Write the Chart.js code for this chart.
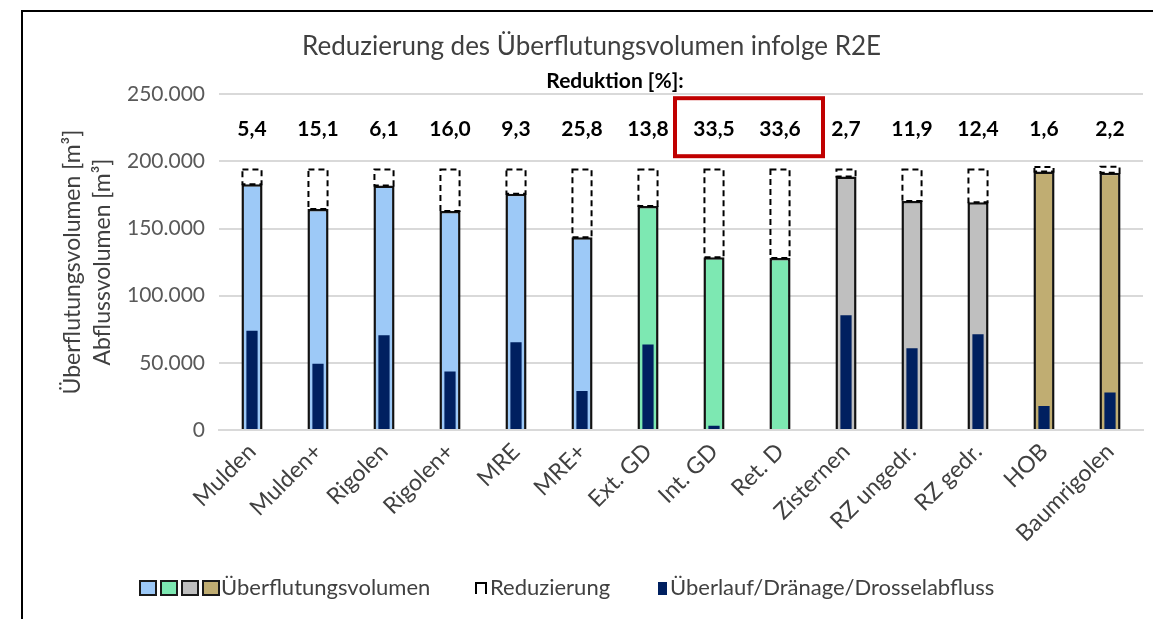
<!DOCTYPE html>
<html lang="de">
<head>
<meta charset="UTF-8">
<title>Reduzierung des Überflutungsvolumen infolge R2E</title>
<script src="https://cdn.jsdelivr.net/npm/chart.js"></script>
<style>
  body { margin: 0; background: #fff; }
  #wrap { position: relative; width: 1153px; height: 619px; }
  #legend { position: absolute; left: 0; top: 573px; width: 1153px; height: 30px;
            font-family: Lato, sans-serif; font-size: 22px; color: #404040; }
  #legend span { position: absolute; top: 0; line-height: 28px; }
  .box { position: absolute; top: 7px; width: 14px; height: 12px; border: 2px solid #1a1a1a; }
</style>
</head>
<body>
<div id="wrap">
  <canvas id="chart" width="1153" height="619"></canvas>
  <div id="legend"></div>
</div>
<script>
// Kategorien
var labels = ['Mulden', 'Mulden+', 'Rigolen', 'Rigolen+', 'MRE', 'MRE+', 'Ext. GD', 'Int. GD',
              'Ret. D', 'Zisternen', 'RZ ungedr.', 'RZ gedr.', 'HOB', 'Baumrigolen'];
// Überflutungsvolumen ohne Maßnahme (gestrichelter Rahmen oben)
var volumenOhne = [194000, 194000, 194000, 194000, 194000, 194000, 194000, 194000,
                   194000, 194000, 194000, 194000, 195800, 196000];
// Überflutungsvolumen mit Maßnahme
var volumenMit = [183000, 164500, 182000, 163000, 175800, 143500, 166800, 128600,
                  128000, 188800, 170500, 169500, 192500, 191500];
// Überlauf/Dränage/Drosselabfluss
var abfluss = [73800, 49400, 70500, 43500, 65300, 29000, 63600, 3200,
               0, 85400, 60800, 71300, 17900, 28000];
// Reduktion [%]
var reduktion = ['5,4', '15,1', '6,1', '16,0', '9,3', '25,8', '13,8', '33,5',
                 '33,6', '2,7', '11,9', '12,4', '1,6', '2,2'];
// markierte Kategorien (roter Rahmen)
var markiert = ['Int. GD', 'Ret. D'];
var yTicks = [0, 50000, 100000, 150000, 200000, 250000];

var gruppenFarben = ['#9dc9f7', '#7de8b2', '#bfbfbf', '#c0ad72'];
var farbGruppe = [0, 0, 0, 0, 0, 0, 1, 1, 1, 2, 2, 2, 3, 3];
var balkenFarben = farbGruppe.map(function (g) { return gruppenFarben[g]; });

function formatZahl(v) {
    return String(v).replace(/\B(?=(\d{3})+(?!\d))/g, '.');
}

// Legende (HTML)
var leg = document.getElementById('legend');
var html = '';
gruppenFarben.forEach(function (c, i) {
    html += '<div class="box" style="left:' + (139 + i * 21) + 'px;background:' + c + '"></div>';
});
html += '<span style="left:221px">Überflutungsvolumen</span>';
html += '<div class="box" style="left:475px;width:8px;height:10px;top:9px;border:2px dashed #000;border-bottom:none;background:none"></div>';
html += '<span style="left:490px">Reduzierung</span>';
html += '<div class="box" style="left:658px;width:9px;height:13px;top:9px;border:none;background:#002060"></div>';
html += '<span style="left:670px">Überlauf/Dränage/Drosselabfluss</span>';
leg.innerHTML = html;

// Rahmen, gestrichelte Reduzierung, Prozentwerte
var extras = {
    id: 'extras',
    beforeDraw: function (chart) {
        var ctx = chart.ctx;
        ctx.save();
        ctx.strokeStyle = '#000';
        ctx.lineWidth = 2;
        ctx.beginPath();
        ctx.moveTo(22, 619);
        ctx.lineTo(22, 11);
        ctx.lineTo(1153, 11);
        ctx.stroke();
        ctx.restore();
    },
    afterDatasetsDraw: function (chart) {
        var ctx = chart.ctx;
        var meta = chart.getDatasetMeta(2);
        ctx.save();
        ctx.strokeStyle = '#000';
        ctx.lineWidth = 2;
        ctx.setLineDash([6, 4]);
        meta.data.forEach(function (bar) {
            var p = bar.getProps(['x', 'y', 'base', 'width'], true);
            ctx.strokeRect(p.x - p.width / 2 + 1, p.y, p.width - 2, p.base - p.y);
        });
        ctx.restore();
    },
    afterDraw: function (chart) {
        var ctx = chart.ctx;
        var xs = chart.scales.x;
        var top = chart.chartArea.top;
        ctx.save();
        ctx.fillStyle = '#000';
        ctx.textAlign = 'center';
        ctx.textBaseline = 'middle';
        ctx.font = 'bold 21px Lato';
        ctx.fillText('Reduktion [%]:', 615, top - 13);
        reduktion.forEach(function (r, i) {
            ctx.fillText(r, xs.getPixelForValue(i), top + 35);
        });
        var a = labels.indexOf(markiert[0]);
        var b = labels.indexOf(markiert[1]);
        var x0 = xs.getPixelForValue(a) - 39;
        var x1 = xs.getPixelForValue(b) + 43;
        ctx.strokeStyle = '#c00000';
        ctx.lineWidth = 4;
        ctx.strokeRect(x0, top + 4, x1 - x0, 58);
        ctx.restore();
    }
};

var ctx = document.getElementById('chart').getContext('2d');
new Chart(ctx, {
    type: 'bar',
    data: {
        labels: labels,
        datasets: [{
            label: 'Überlauf/Dränage/Drosselabfluss',
            data: abfluss,
            backgroundColor: '#002060',
            borderWidth: 0,
            barPercentage: 0.17,
            categoryPercentage: 1,
            grouped: false,
            order: 0
        }, {
            label: 'Überflutungsvolumen',
            data: volumenMit,
            backgroundColor: balkenFarben,
            borderColor: '#111',
            borderWidth: 2.5,
            barPercentage: 0.32,
            categoryPercentage: 1,
            grouped: false,
            order: 1
        }, {
            label: 'Reduzierung',
            data: volumenMit.map(function (v, i) { return [v, volumenOhne[i]]; }),
            backgroundColor: 'rgba(0,0,0,0)',
            borderWidth: 0,
            barPercentage: 0.32,
            categoryPercentage: 1,
            grouped: false,
            order: 2
        }]
    },
    options: {
        responsive: false,
        animation: false,
        devicePixelRatio: 1,
        layout: { padding: { left: 40, right: 10, top: 12, bottom: 0 } },
        plugins: {
            legend: { display: false },
            tooltip: { enabled: false },
            title: {
                display: true,
                text: 'Reduzierung des Überflutungsvolumen infolge R2E',
                color: '#404040',
                font: { family: 'Lato', size: 26, weight: 'normal' },
                padding: { top: 19, bottom: 32 }
            }
        },
        scales: {
            x: {
                grid: { display: false, drawTicks: false },
                border: { display: true, color: '#d9d9d9', width: 2 },
                ticks: {
                    color: '#404040',
                    font: { family: 'Lato', size: 23 },
                    minRotation: 45,
                    maxRotation: 45,
                    padding: 8
                },
                afterFit: function (s) { s.height = 189; }
            },
            y: {
                min: 0,
                max: 250000,
                afterBuildTicks: function (s) {
                    s.ticks = yTicks.map(function (v) { return { value: v }; });
                },
                grid: { color: '#d9d9d9', lineWidth: 2, drawTicks: false },
                border: { display: false },
                ticks: {
                    color: '#595959',
                    font: { family: 'Lato', size: 21 },
                    padding: 14,
                    callback: function (v) { return formatZahl(v); }
                },
                title: {
                    display: true,
                    text: ['Überflutungsvolumen [m³]', 'Abflussvolumen [m³]'],
                    color: '#404040',
                    font: { family: 'Lato', size: 23, lineHeight: 1.3 },
                    padding: { top: 18, bottom: 0 }
                },
                afterFit: function (s) { s.width = 179; }
            }
        }
    },
    plugins: [extras]
});
</script>
</body>
</html>
